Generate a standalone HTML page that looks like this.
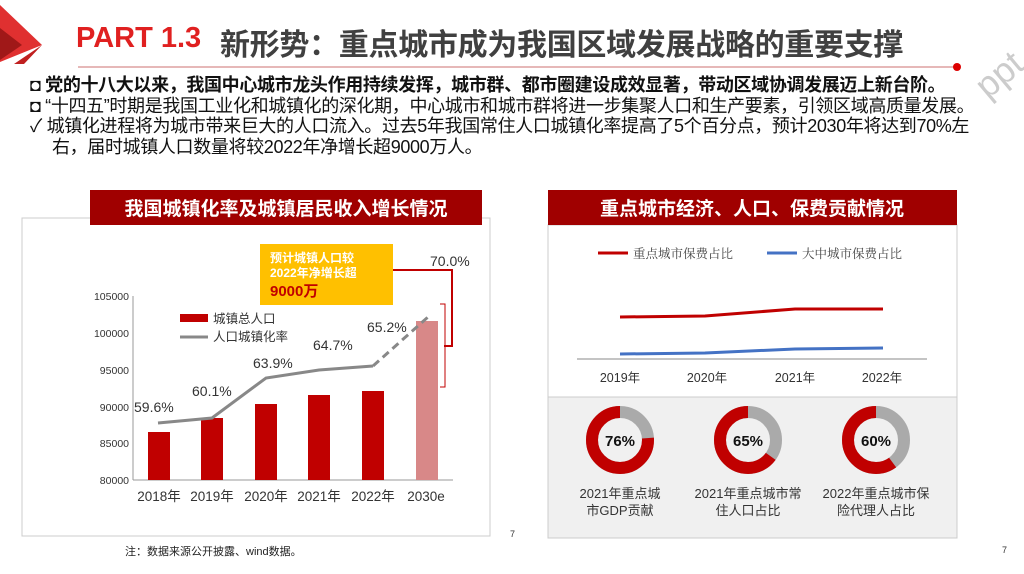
<!DOCTYPE html>
<html><head><meta charset="utf-8"><style>
body{margin:0;width:1024px;height:574px;overflow:hidden;background:#fff;font-family:"Liberation Sans","Noto Sans CJK SC",sans-serif;position:relative}
.a{position:absolute;white-space:nowrap}
</style></head><body>
<svg class="a" style="left:0;top:0" width="1024" height="574">
<polygon points="0,5 42,45 0,62" fill="#e03030"/>
<polygon points="0,28 22,45 0,60" fill="#a01818"/>
<polygon points="42,45 14,64 24,64" fill="#c02020"/>
<line x1="78" y1="67" x2="955" y2="67" stroke="#e6b8b8" stroke-width="2"/>
<circle cx="957" cy="67" r="4" fill="#d00"/>
<text x="955" y="90" transform="rotate(-40 985 50)" font-size="36" fill="#ccc" font-family="Liberation Sans">ppt.com</text>
<!-- left panel -->
<rect x="22" y="218" width="468" height="318" fill="none" stroke="#ccc"/>
<rect x="90" y="190" width="392" height="35" fill="#a00000"/>
<text x="286" y="215" text-anchor="middle" font-size="19" font-weight="bold" fill="#fff" font-family="Noto Sans CJK SC">我国城镇化率及城镇居民收入增长情况</text>
<g font-size="10.5" fill="#333" text-anchor="end">
<text x="129" y="300">105000</text><text x="129" y="337">100000</text><text x="129" y="374">95000</text><text x="129" y="411">90000</text><text x="129" y="447">85000</text><text x="129" y="484">80000</text>
</g>
<line x1="133" y1="296" x2="133" y2="480" stroke="#999"/>
<line x1="133" y1="480" x2="453" y2="480" stroke="#999"/>
<g fill="#c00000">
<rect x="148" y="432" width="22" height="48"/><rect x="201" y="418" width="22" height="62"/><rect x="255" y="404" width="22" height="76"/><rect x="308" y="395" width="22" height="85"/><rect x="362" y="391" width="22" height="89"/>
</g>
<rect x="416" y="321" width="22" height="159" fill="#d88888"/>
<polyline points="158,423 212,418 266,378 319,370 373,366" fill="none" stroke="#888" stroke-width="3"/>
<line x1="373" y1="366" x2="428" y2="317" stroke="#888" stroke-width="3" stroke-dasharray="8,5"/>
<g font-size="14" fill="#333" font-family="Liberation Sans">
<text x="134" y="412">59.6%</text><text x="192" y="396">60.1%</text><text x="253" y="368">63.9%</text><text x="313" y="350">64.7%</text><text x="367" y="332">65.2%</text><text x="430" y="266">70.0%</text>
</g>
<g font-size="13.5" fill="#333" text-anchor="middle">
<text x="159" y="501">2018年</text><text x="212" y="501">2019年</text><text x="266" y="501">2020年</text><text x="319" y="501">2021年</text><text x="373" y="501">2022年</text><text x="426" y="501">2030e</text>
</g>
<rect x="180" y="314" width="28" height="8" fill="#c00000"/>
<text x="213" y="323" font-size="12.5" fill="#333">城镇总人口</text>
<line x1="180" y1="337" x2="208" y2="337" stroke="#888" stroke-width="3"/>
<text x="213" y="341" font-size="12.5" fill="#333">人口城镇化率</text>
<rect x="260" y="244" width="133" height="61" fill="#ffc000"/>
<text x="270" y="262" font-size="12" font-weight="bold" fill="#fff">预计城镇人口较</text>
<text x="270" y="277" font-size="12" font-weight="bold" fill="#fff">2022年净增长超</text>
<text x="270" y="296" font-size="15" font-weight="bold" fill="#c00000">9000万</text>
<polyline points="393,270 452,270 452,346 444,346" fill="none" stroke="#c00000" stroke-width="2"/>
<polyline points="440,304 445,304 445,387 440,387" fill="none" stroke="#c00000" stroke-width="1"/>
<!-- right panel -->
<rect x="548" y="225" width="409" height="172" fill="#fff" stroke="#ccc"/>
<rect x="548" y="397" width="409" height="141" fill="#f0f0f0" stroke="#ccc"/>
<rect x="548" y="190" width="409" height="35" fill="#a00000"/>
<text x="752" y="215" text-anchor="middle" font-size="19" font-weight="bold" fill="#fff" font-family="Noto Sans CJK SC">重点城市经济、人口、保费贡献情况</text>
<line x1="598" y1="253" x2="628" y2="253" stroke="#c00000" stroke-width="3"/>
<text x="633" y="258" font-size="12.5" fill="#444" font-family="Noto Serif CJK SC">重点城市保费占比</text>
<line x1="767" y1="253" x2="797" y2="253" stroke="#4472c4" stroke-width="3"/>
<text x="802" y="258" font-size="12.5" fill="#444" font-family="Noto Serif CJK SC">大中城市保费占比</text>
<polyline points="620,317 705,316 795,309 883,309" fill="none" stroke="#c00000" stroke-width="3"/>
<polyline points="620,354 705,353 795,349 883,348" fill="none" stroke="#4472c4" stroke-width="3"/>
<line x1="577" y1="359" x2="927" y2="359" stroke="#888"/>
<g font-size="12.5" fill="#333" text-anchor="middle">
<text x="620" y="382">2019年</text><text x="707" y="382">2020年</text><text x="795" y="382">2021年</text><text x="882" y="382">2022年</text>
</g>
<g fill="none" stroke-width="12">
<circle cx="620" cy="440" r="28" stroke="#aaa"/>
<circle cx="620" cy="440" r="28" stroke="#c00000" stroke-dasharray="133.7 200" transform="rotate(-90 620 440) scale(1,-1) translate(0,-880)"/>
<circle cx="748" cy="440" r="28" stroke="#aaa"/>
<circle cx="748" cy="440" r="28" stroke="#c00000" stroke-dasharray="114.3 200" transform="rotate(-90 748 440) scale(1,-1) translate(0,-880)"/>
<circle cx="876" cy="440" r="28" stroke="#aaa"/>
<circle cx="876" cy="440" r="28" stroke="#c00000" stroke-dasharray="105.6 200" transform="rotate(-90 876 440) scale(1,-1) translate(0,-880)"/>
</g>
<g font-size="15" font-weight="bold" fill="#111" text-anchor="middle">
<text x="620" y="446">76%</text><text x="748" y="446">65%</text><text x="876" y="446">60%</text>
</g>
<g font-size="13" fill="#333" text-anchor="middle">
<text x="620" y="498">2021年重点城</text><text x="620" y="515">市GDP贡献</text>
<text x="748" y="498">2021年重点城市常</text><text x="748" y="515">住人口占比</text>
<text x="876" y="498">2022年重点城市保</text><text x="876" y="515">险代理人占比</text>
</g>
<text x="510" y="537" font-size="9" fill="#333">7</text>
<text x="1002" y="553" font-size="9" fill="#333">7</text>
<text x="125" y="555" font-size="11" fill="#222">注：数据来源公开披露、wind数据。</text>
</svg>
<div class="a" style="left:76px;top:22px;font-size:29px;font-weight:bold;color:#e02020">PART 1.3</div>
<div class="a" style="left:220px;top:20px;font-size:30px;font-weight:bold;color:#404040;letter-spacing:-0.3px">新形势：重点城市成为我国区域发展战略的重要支撑</div>
<div class="a" style="left:30px;top:75px;font-size:18px;line-height:20.5px;color:#111;letter-spacing:-0.35px">
<div style="font-weight:bold">◘ 党的十八大以来，我国中心城市龙头作用持续发挥，城市群、都市圈建设成效显著，带动区域协调发展迈上新台阶。</div>
<div>◘ “十四五”时期是我国工业化和城镇化的深化期，中心城市和城市群将进一步集聚人口和生产要素，引领区域高质量发展。</div>
<div>✓ 城镇化进程将为城市带来巨大的人口流入。过去5年我国常住人口城镇化率提高了5个百分点，预计2030年将达到70%左</div>
<div style="padding-left:22px">右，届时城镇人口数量将较2022年净增长超9000万人。</div>
</div>
</body></html>
